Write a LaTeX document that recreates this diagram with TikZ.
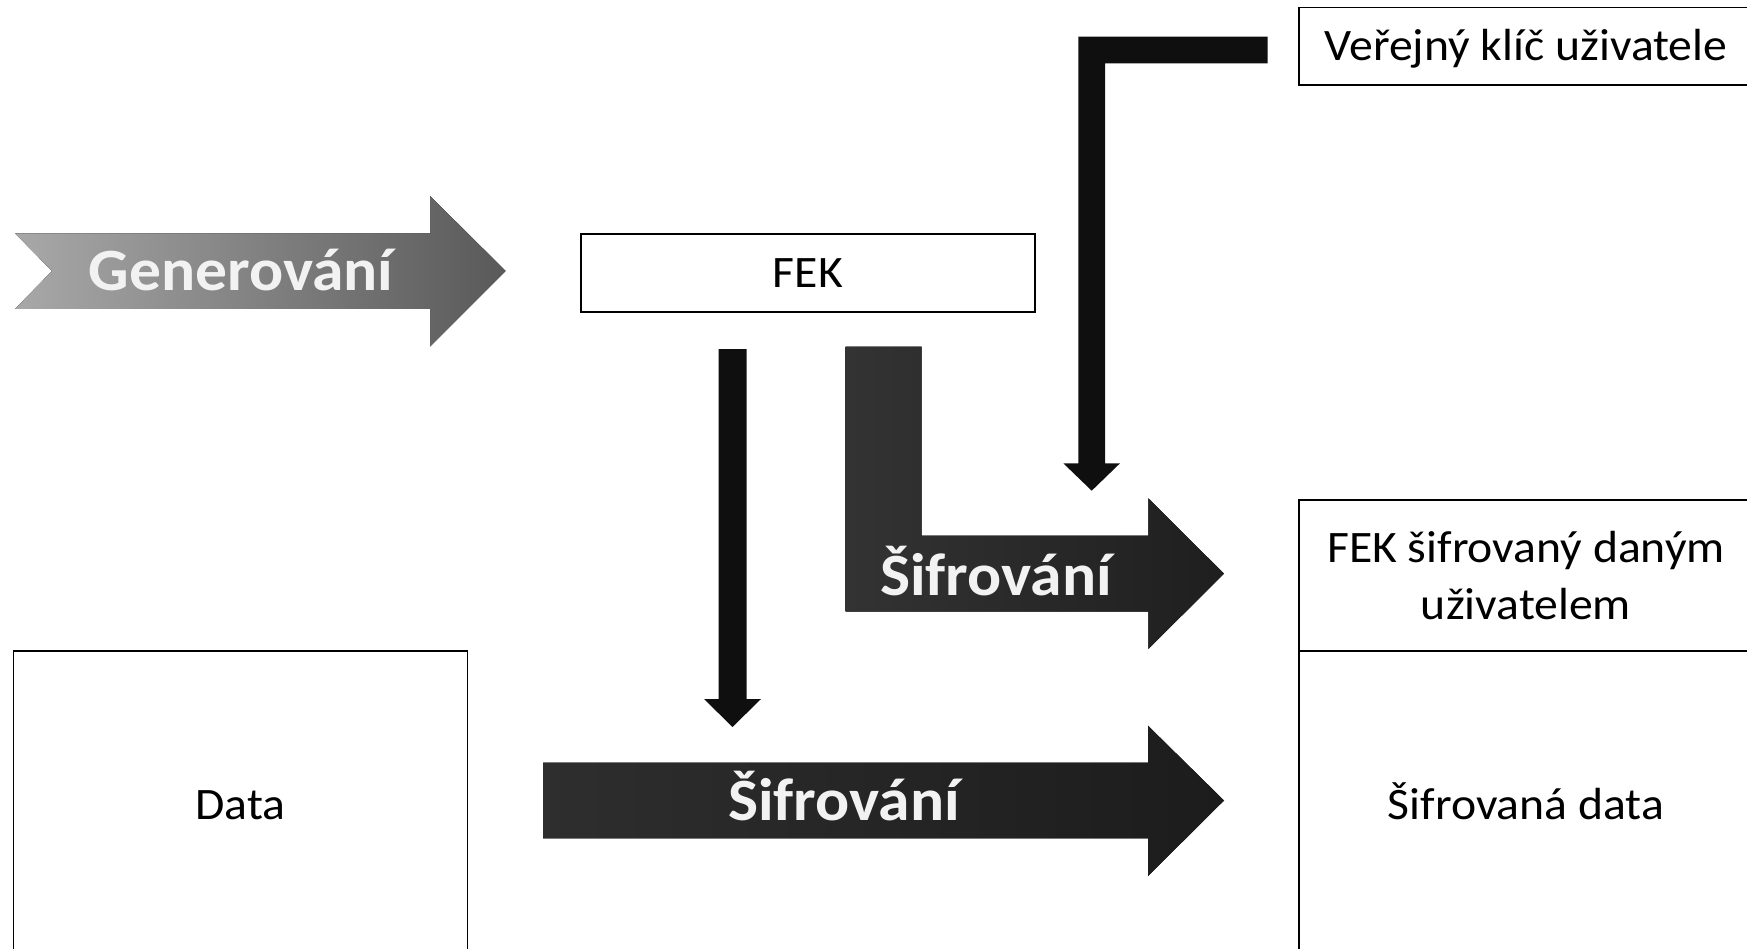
\documentclass[tikz,border=0pt]{standalone}
\usepackage{fontspec}
\setmainfont{Carlito}[FakeStretch=1.06]
\usetikzlibrary{calc}

\definecolor{inkdark}{HTML}{0F0F0F}
\definecolor{labelwhite}{HTML}{F2F2F2}

\tikzset{
  box/.style={draw=black, line width=1.6pt, fill=white, rectangle, inner sep=0pt,
              minimum width=454pt, align=center,
              font=\fontsize{45}{57}\selectfont},
  oneline/.style={box, text height=28.4pt, text depth=0pt},
  arrowlabel/.style={text=labelwhite, anchor=base,
              font=\fontsize{60}{60}\selectfont\bfseries},
  thinarrow/.style={fill=inkdark, draw=none},
}

\begin{document}
\begin{tikzpicture}[x=1pt,y=-1pt]
  \useasboundingbox (0,0) rectangle (1747,949);

  % boxes
  \node[oneline, minimum height=77.7pt] (fek) at (807.9,272.9) {FEK};
  \node[oneline, minimum height=77.7pt] (pubkey) at (1526,46.2) {Veřejný klíč uživatele};
  \node[oneline, minimum height=308pt] (data) at (240.5,805) {Data};
  \node[box, minimum height=151pt] (enckey) at (1526,575.5) {FEK šifrovaný daným\\uživatelem};
  \node[oneline, minimum height=308pt] (encdata) at (1526,805) {Šifrovaná data};

  % generation arrow with notched tail
  \fill[left color=black!34, right color=black!65]
    (15,233.3) -- (430,233.3) -- (430,196) -- (505.7,271) -- (430,346.7)
    -- (430,309) -- (15,309) -- (52,271) -- cycle;
  \node[arrowlabel] (gen) at (241,290.7) {Generování};

  % bent encryption arrow: FEK encrypted with the public key
  \fill[left color=black!80, right color=black!88]
    (845.7,346.7) -- (921.7,346.7) -- (921.7,535.7) -- (1148.3,535.7)
    -- (1148.3,498.3) -- (1224,573.7) -- (1148.3,649) -- (1148.3,611.7)
    -- (845.7,611.7) -- cycle;
  \node[arrowlabel] (enc1) at (996,595) {Šifrování};

  % straight encryption arrow: data encrypted with FEK
  \fill[left color=black!82, right color=black!89]
    (543,762.7) -- (1148,762.7) -- (1148,725.7) -- (1224,800.5)
    -- (1148,876) -- (1148,838.3) -- (543,838.3) -- cycle;
  \node[arrowlabel] (enc2) at (844,820.7) {Šifrování};

  % FEK down into the data encryption
  \fill[thinarrow]
    (718.5,349) -- (746.5,349) -- (746.5,699) -- (761,699) -- (732.5,727)
    -- (704,699) -- (718.5,699) -- cycle;

  % public key down into the FEK encryption
  \fill[thinarrow]
    (1267.7,36.7) -- (1267.7,63.3) -- (1105,63.3) -- (1105,463.3)
    -- (1120,463.3) -- (1091.7,490.7) -- (1063.3,463.3) -- (1078.3,463.3)
    -- (1078.3,36.7) -- cycle;
\end{tikzpicture}
\end{document}
